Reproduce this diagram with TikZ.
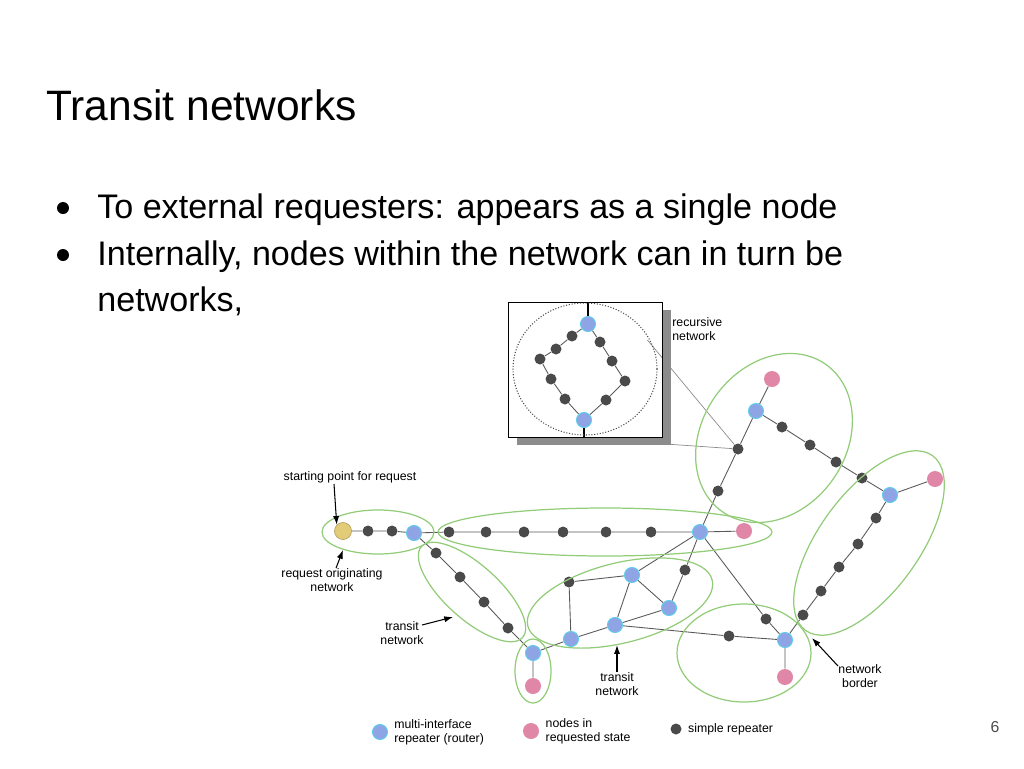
\documentclass[tikz,border=0pt]{standalone}
\usepackage{fontspec}
\setmainfont{Liberation Sans}
\usetikzlibrary{arrows.meta,positioning,backgrounds}
\definecolor{router}{HTML}{8FA4E4}
\definecolor{routerrim}{HTML}{62CBEA}
\definecolor{wanted}{HTML}{E086A6}
\definecolor{repeater}{HTML}{4A4A4A}
\definecolor{origin}{HTML}{E2CC78}
\definecolor{border}{HTML}{92CC78}
\tikzset{
  rt/.style={circle,fill=router,draw=routerrim,line width=0.6pt,minimum size=15*0.02cm,inner sep=0pt},
  pk/.style={circle,fill=wanted,minimum size=16*0.02cm,inner sep=0pt},
  gr/.style={circle,fill=repeater,minimum size=11*0.02cm,inner sep=0pt},
  yl/.style={circle,fill=origin,draw=origin!80!black,line width=0.4pt,minimum size=17*0.02cm,inner sep=0pt},
  link/.style={draw=black!65,line width=0.5pt},
  net/.style={draw=border,line width=0.7pt},
  lbl/.style={font=\fontsize{7}{8}\selectfont,align=center,inner sep=0pt},
  ptr/.style={-{Latex[length=5pt,width=3.5pt]},line width=0.6pt},
  dot/.style={circle,fill=black,inner sep=0pt,minimum size=12*0.02cm}
}
\begin{document}
\begin{tikzpicture}[x=0.02cm,y=0.02cm]
\useasboundingbox (0,0) rectangle (1024,-768);
% heading and bullets
\node[anchor=base west,inner sep=0pt,font=\fontsize{24.2}{29}\selectfont] (title) at (46,-120) {Transit networks};
\node[anchor=base west,inner sep=0pt,font=\fontsize{19.4}{23}\selectfont] (b1) at (97,-218) {To external requesters: appears as a single node};
\node[anchor=base west,inner sep=0pt,font=\fontsize{19.4}{23}\selectfont] (b2) at (97,-265) {Internally, nodes within the network can in turn be};
\node[anchor=base west,inner sep=0pt,font=\fontsize{19.4}{23}\selectfont] (b3) at (97,-311) {networks,};
\node[dot] (d1) at (63,-208) {};
\node[dot] (d2) at (63,-255) {};
\node[font=\fontsize{9}{10}\selectfont,text=black!70] (page) at (995,-727) {6};

% recursive network inset
\fill[black!45] (662,-310) rectangle (671,-445);
\fill[black!45] (517,-437) rectangle (671,-445);
\node[draw=black,line width=0.8pt,minimum width=154*0.02cm,minimum height=135*0.02cm,inner sep=0pt,anchor=north west] (box) at (508,-302) {};
\draw[black!70,densely dotted,line width=0.6pt] (585,-369) ellipse[x radius=72,y radius=66];
\node[rt] (itop) at (588,-324) {};
\node[rt] (ibot) at (584,-420) {};
\node[gr] (l1) at (572,-336) {};
\node[gr] (l2) at (556,-349) {};
\node[gr] (l3) at (540,-359) {};
\node[gr] (l4) at (551,-379) {};
\node[gr] (l5) at (565,-399) {};
\node[gr] (r1) at (600,-342) {};
\node[gr] (r2) at (612,-361) {};
\node[gr] (r3) at (625,-381) {};
\node[gr] (r4) at (606,-400) {};
\node[lbl,align=left,anchor=west] (reclbl) at (672,-329) {recursive\\network};

% main network nodes
\node[yl] (start) at (343,-531) {};
\node[gr] (s1) at (368,-531) {};
\node[gr] (s2) at (392,-531) {};
\node[rt] (ra) at (414,-533) {};
\node[gr] (h1) at (449,-532) {};
\node[gr] (h2) at (486,-532) {};
\node[gr] (h3) at (524,-532) {};
\node[gr] (h4) at (563,-532) {};
\node[gr] (h5) at (606,-532) {};
\node[gr] (h6) at (651,-532) {};
\node[rt] (rb) at (700,-532) {};
\node[pk] (pb) at (744,-531) {};
\node[gr] (u1) at (718,-491) {};
\node[gr] (u2) at (738,-449) {};
\node[rt] (rc) at (756,-411) {};
\node[pk] (pc) at (772,-379) {};
\node[gr] (c1) at (782,-427) {};
\node[gr] (c2) at (810,-445) {};
\node[gr] (c3) at (836,-462) {};
\node[gr] (c4) at (862,-478) {};
\node[rt] (rd) at (890,-495) {};
\node[pk] (pd) at (935,-479) {};
\node[gr] (e1) at (876,-518) {};
\node[gr] (e2) at (858,-544) {};
\node[gr] (e3) at (839,-567) {};
\node[gr] (e4) at (821,-591) {};
\node[gr] (e5) at (803,-615) {};
\node[rt] (re) at (785,-640) {};
\node[pk] (pe) at (785,-677) {};
\node[gr] (be) at (766,-619) {};
\node[gr] (t1) at (436,-553) {};
\node[gr] (t2) at (460,-577) {};
\node[gr] (t3) at (484,-602) {};
\node[gr] (t4) at (508,-628) {};
\node[rt] (rf) at (533,-653) {};
\node[pk] (pf) at (533,-686) {};
\node[gr] (mg) at (569,-582) {};
\node[rt] (rh) at (632,-575) {};
\node[rt] (ri) at (669,-608) {};
\node[rt] (rj) at (615,-625) {};
\node[rt] (rk) at (571,-639) {};
\node[gr] (ml) at (685,-570) {};
\node[gr] (mm) at (729,-636) {};

% links, behind the nodes
\begin{scope}[on background layer]
\draw[link] (itop) -- (l1) -- (l2) -- (l3) -- (l4) -- (l5) -- (ibot);
\draw[link] (itop) -- (r1) -- (r2) -- (r3) -- (r4) -- (ibot);
\draw[black,line width=0.6pt] (itop) -- (itop |- box.north);
\draw[black,line width=0.6pt] (ibot) -- (ibot |- box.south);
\draw[link] (start) -- (s1) -- (s2) -- (ra) -- (h1) -- (h2) -- (h3) -- (h4) -- (h5) -- (h6) -- (rb) -- (pb);
\draw[link] (rb) -- (u1) -- (u2) -- (rc) -- (pc);
\draw[link] (rc) -- (c1) -- (c2) -- (c3) -- (c4) -- (rd) -- (pd);
\draw[link] (rd) -- (e1) -- (e2) -- (e3) -- (e4) -- (e5) -- (re) -- (pe);
\draw[link] (rb) -- (be) -- (re);
\draw[link] (ra) -- (t1) -- (t2) -- (t3) -- (t4) -- (rf) -- (pf);
\draw[link] (rf) -- (rk) -- (mg) -- (rh) -- (rj) -- (rk);
\draw[link] (rj) -- (ri) -- (rh) -- (rb);
\draw[link] (ri) -- (ml) -- (rb);
\draw[link] (rj) -- (mm) -- (re);
\draw[black!45,line width=0.4pt] (box.north east) ++(-16,-38) -- (u2);
\draw[black!45,line width=0.4pt] (ibot |- box.south) -- (u2);
\end{scope}

% network borders
\draw[net] (378,-532) ellipse[x radius=56,y radius=22];
\draw[net] (605,-532) ellipse[x radius=167,y radius=24];
\draw[net,rotate around={-42:(472,-592)}] (472,-592) ellipse[x radius=68,y radius=27];
\draw[net] (533,-671) ellipse[x radius=18,y radius=32];
\draw[net,rotate around={14:(620,-603)}] (620,-603) ellipse[x radius=95,y radius=40];
\draw[net] (744,-653) ellipse[x radius=67,y radius=49];
\draw[net,rotate around={54:(869,-543)}] (869,-543) ellipse[x radius=108,y radius=50];
\draw[net,rotate around={55:(774,-438)}] (774,-438) ellipse[x radius=90,y radius=72];

% annotations
\node[lbl] (startlbl) at (350,-477) {starting point for request};
\draw[ptr] (334,-484) -- (start.north west);
\node[lbl] (origlbl) at (332,-580) {request originating\\network};
\draw[ptr] (origlbl.north) ++(4,0) -- (343,-550);
\node[lbl] (translbl) at (402,-633) {transit\\network};
\draw[ptr] (422,-625) -- (453,-617);
\node[lbl] (trans2lbl) at (617,-684) {transit\\network};
\draw[ptr] (trans2lbl.north) -- ++(0,27);
\node[lbl] (borderlbl) at (860,-676) {network\\border};
\draw[ptr] (838,-666) -- (812,-638);

% legend
\node[rt] (keyrt) at (380,-732) {};
\node[lbl,align=left,right=6*0.02cm of keyrt] (keyrtlbl) {multi-interface\\repeater (router)};
\node[pk] (keypk) at (531,-731) {};
\node[lbl,align=left,right=6*0.02cm of keypk] (keypklbl) {nodes in\\requested state};
\node[gr] (keygr) at (676,-729) {};
\node[lbl,align=left,right=6*0.02cm of keygr] (keygrlbl) {simple repeater};
\end{tikzpicture}
\end{document}
